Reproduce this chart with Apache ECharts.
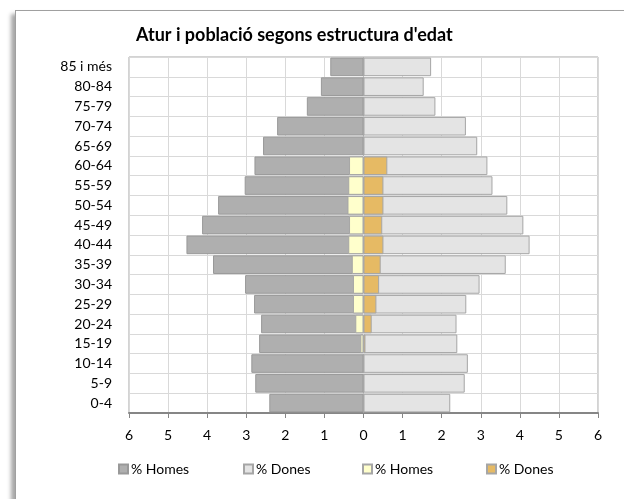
<!DOCTYPE html>
<html>
<head>
<meta charset="utf-8">
<script src="https://cdn.jsdelivr.net/npm/echarts@6/dist/echarts.min.js"></script>
<style>
  html, body { margin: 0; padding: 0; background: #fff; }
  #frame {
    position: absolute; left: 15px; top: 10px; width: 700px; height: 600px;
    background: #fff; border-left: 1px solid #a0a0a0; border-top: 1px solid #a0a0a0;
    box-shadow: -5px 3px 4px -1px rgba(0,0,0,0.35);
  }
  #chart { position: absolute; left: 0; top: 0; width: 624px; height: 499px; }
</style>
</head>
<body>
<div id="frame"></div>
<div id="chart"></div>
<script>
// grups d'edat (de baix a dalt)
var ages = ['0-4', '5-9', '10-14', '15-19', '20-24', '25-29', '30-34', '35-39', '40-44',
            '45-49', '50-54', '55-59', '60-64', '65-69', '70-74', '75-79', '80-84', '85 i més']
// població (%)
var popHomes = [2.41, 2.77, 2.87, 2.67, 2.62, 2.80, 3.03, 3.85, 4.53,
                4.13, 3.72, 3.04, 2.79, 2.57, 2.21, 1.45, 1.09, 0.85]
var popDones = [2.22, 2.59, 2.67, 2.40, 2.38, 2.63, 2.97, 3.64, 4.25,
                4.09, 3.68, 3.30, 3.17, 2.91, 2.62, 1.84, 1.54, 1.73]
// atur (%)
var aturHomes = [0, 0, 0, 0.08, 0.21, 0.27, 0.27, 0.30, 0.39,
                 0.37, 0.41, 0.39, 0.37, 0, 0, 0, 0, 0]
var aturDones = [0, 0, 0, 0.05, 0.21, 0.33, 0.40, 0.44, 0.51,
                 0.48, 0.51, 0.51, 0.61, 0, 0, 0, 0, 0]
var xTicks = [-6, 6, 1]  // min, max, interval
var legendNames = ['% Homes', '% Dones', '% Homes ', '% Dones ']
var legendLeft = [118, 243, 362, 486]

var font = 'Lato, "Open Sans", sans-serif'
var neg = function (arr) { return arr.map(function (v) { return -v }) }

var chart = echarts.init(document.getElementById('chart'))

// una llegenda per element, com a l'Excel
var legends = legendNames.map(function (n, i) {
  return {
    left: legendLeft[i], top: 462, padding: 0,
    itemWidth: 9, itemHeight: 9, itemGap: 0,
    textStyle: { fontSize: 14, color: '#000', fontFamily: font, padding: [0, 0, 0, -2] },
    data: [{ name: n, icon: 'rect' }]
  }
})

var option = {
  animation: false,
  textStyle: { fontFamily: font },
  title: {
    text: "Atur i població segons estructura d'edat",
    left: 131, top: 21,
    textStyle: { fontSize: 18, fontWeight: 'bold', color: '#000', fontFamily: font }
  },
  legend: legends,
  grid: { left: 129, right: 26, top: 57, bottom: 86, show: true, borderColor: '#a6a6a6', borderWidth: 1 },
  xAxis: {
    type: 'value', min: xTicks[0], max: xTicks[1], interval: xTicks[2],
    axisLine: { show: true, lineStyle: { color: '#868686', width: 2 } },
    axisTick: { show: true, length: 5, lineStyle: { color: '#868686', width: 1 } },
    axisLabel: {
      color: '#000', fontSize: 14, margin: 15,
      formatter: function (v) { return Math.abs(v) }
    },
    splitLine: { show: true, lineStyle: { color: '#d9d9d9' } }
  },
  yAxis: {
    type: 'category', data: ages,
    axisLine: { show: false }, axisTick: { show: false },
    axisLabel: { color: '#000', fontSize: 14, margin: 17 },
    splitLine: { show: true, lineStyle: { color: '#d9d9d9' } }
  },
  series: [
    {
      name: '% Homes', type: 'bar', stack: 'pob', data: neg(popHomes),
      barCategoryGap: '6%', barGap: '-100%',
      itemStyle: { color: '#afafaf', borderColor: '#999999', borderWidth: 1 }
    },
    {
      name: '% Dones', type: 'bar', stack: 'pob', data: popDones,
      itemStyle: { color: '#e4e4e4', borderColor: '#a6a6a6', borderWidth: 1 }
    },
    {
      name: '% Homes ', type: 'bar', stack: 'atur', data: neg(aturHomes),
      itemStyle: { color: '#ffffcc', borderColor: '#a6a6a6', borderWidth: 1 }
    },
    {
      name: '% Dones ', type: 'bar', stack: 'atur', data: aturDones,
      itemStyle: { color: '#e6ba64', borderColor: '#a6a6a6', borderWidth: 1 }
    }
  ]
}
chart.setOption(option)
</script>
</body>
</html>
